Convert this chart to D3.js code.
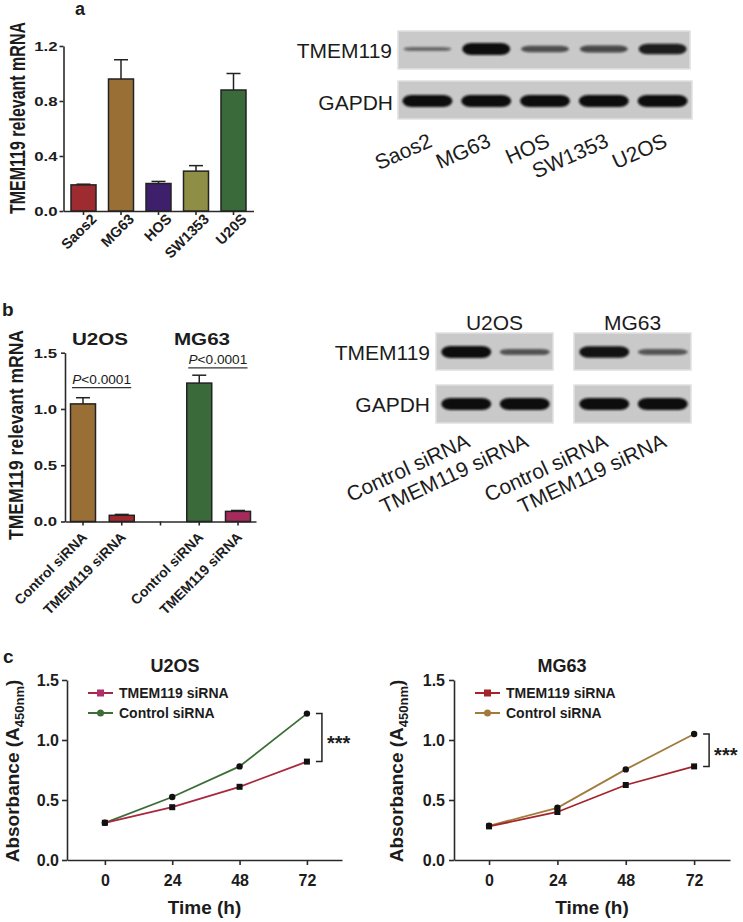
<!DOCTYPE html>
<html><head><meta charset="utf-8">
<script src="https://cdn.jsdelivr.net/npm/d3@7"></script>
<style>
body{margin:0;background:#fff;}
svg text{font-family:"Liberation Sans",Arial,Helvetica,sans-serif;}
</style></head><body>
<svg id="fig" width="743" height="922"></svg>
<script>
// ---------------- data ----------------
// panel a: qPCR bars
const cellLinesA = ["Saos2","MG63","HOS","SW1353","U20S"];
const mrnaA      = [0.19, 0.96, 0.20, 0.29, 0.88];
const mrnaErrA   = [0.005, 0.14, 0.015, 0.04, 0.12];
const yTicksA    = [0.0, 0.4, 0.8, 1.2];
// panel a: western blot
const blotLanesA = ["Saos2","MG63","HOS","SW1353","U2OS"];
const tmemBandA  = [0.18, 1.00, 0.42, 0.48, 0.85];
const gapdhBandA = [1, 1, 1, 1, 1];
const blotRowsA  = ["TMEM119","GAPDH"];
// panel b: qPCR bars
const groupsB     = ["U2OS","MG63"];
const conditionsB = ["Control siRNA","TMEM119 siRNA"];
const mrnaB       = [[1.045, 0.055],[1.23, 0.09]];
const mrnaErrB    = [[0.055, 0.008],[0.07, 0.008]];
const sigLevelB   = [1.19, 1.365];
const pTextB      = ["<0.0001","<0.0001"];
const yTicksB     = [0.0, 0.5, 1.0, 1.5];
// panel b: western blot
const tmemBandB  = [[1.0, 0.38],[0.95, 0.35]];
const gapdhBandB = [[1, 1],[1, 1]];
// panel c: CCK-8 growth curves
const timesC   = [0, 24, 48, 72];
const u2osTmem = [0.31, 0.44, 0.61, 0.82];
const u2osCtrl = [0.31, 0.525, 0.78, 1.22];
const mg63Tmem = [0.28, 0.40, 0.625, 0.78];
const mg63Ctrl = [0.285, 0.435, 0.755, 1.05];
const yTicksC  = [0.0, 0.5, 1.0, 1.5];
const seriesNamesC = ["TMEM119 siRNA","Control siRNA"];

// ---------------- helpers ----------------
const svg = d3.select("#fig");
const INK = "#1c1c1c";
function txt(x, y, str, o = {}) {
  return svg.append("text")
    .attr("transform", `translate(${x},${y}) scale(${o.sx || 1},1) rotate(${o.rot || 0})`)
    .attr("text-anchor", o.anchor || "start")
    .attr("font-size", o.size || 14)
    .attr("font-weight", o.weight || "normal")
    .attr("fill", o.fill || INK)
    .text(str);
}
function styleAxis(g, w, size) {
  g.select(".domain").attr("stroke", "#2a2a2a").attr("stroke-width", w);
  g.selectAll(".tick line").attr("stroke", "#2a2a2a").attr("stroke-width", w);
  g.attr("font-size", size).attr("font-family", null);
  g.selectAll(".tick text").attr("fill", INK).attr("font-weight", "bold");
}
const defs = svg.append("defs");
defs.append("filter").attr("id", "blur").attr("x", "-20%").attr("y", "-60%").attr("width", "140%").attr("height", "220%")
  .append("feGaussianBlur").attr("stdDeviation", 0.9);

// ---------------- panel a: bar chart ----------------
const colorsA = ["#9e2b30","#9a6f35","#3e1f6b","#8f8e46","#3b6a3a"];
const xA = d3.scaleBand().domain(cellLinesA).range([63.5, 253.5]).paddingInner(1/3).paddingOuter(0.2);
const yA = d3.scaleLinear().domain([0, 1.2]).range([211, 46]);
const axYA = svg.append("g").attr("transform", "translate(63.5,0)")
  .call(d3.axisLeft(yA).tickValues(yTicksA).tickFormat(d3.format(".1f")).tickSize(4).tickSizeOuter(0));
styleAxis(axYA, 1.6, 12);
axYA.selectAll(".tick text").attr("x", null).attr("dy", "0.36em").attr("transform", "translate(-6,0) scale(1.4,1)");
const axXA = svg.append("g").attr("transform", "translate(0,211)")
  .call(d3.axisBottom(xA).tickSize(4).tickSizeOuter(0).tickFormat(""));
styleAxis(axXA, 1.6, 12);
cellLinesA.forEach((c, i) => {
  const x = xA(c), w = xA.bandwidth();
  svg.append("rect").attr("x", x).attr("y", yA(mrnaA[i])).attr("width", w).attr("height", yA(0) - yA(mrnaA[i]))
    .attr("fill", colorsA[i]).attr("stroke", "#222").attr("stroke-width", 1.5);
  const cx = x + w / 2, yt = yA(mrnaA[i] + mrnaErrA[i]);
  svg.append("line").attr("x1", cx).attr("x2", cx).attr("y1", yA(mrnaA[i])).attr("y2", yt).attr("stroke", "#222").attr("stroke-width", 1.5);
  svg.append("line").attr("x1", cx - 7).attr("x2", cx + 7).attr("y1", yt).attr("y2", yt).attr("stroke", "#222").attr("stroke-width", 1.5);
  txt(cx + 14, 220, c, {rot: -45, anchor: "end", size: 14.5, weight: "bold"});
});
txt(25, 118, "TMEM119 relevant mRNA", {rot: -90, anchor: "middle", size: 16, weight: "bold", sx: 1.4});
txt(75, 15, "a", {size: 18, weight: "bold"});

// ---------------- blot helpers ----------------
function blotBox(x0, x1, y0, y1) {
  svg.append("rect").attr("x", x0).attr("y", y0).attr("width", x1 - x0).attr("height", y1 - y0)
    .attr("fill", "#c9c9c9").attr("stroke", "#e0e0e0").attr("stroke-width", 1.5);
}
function band(cx, cy, w, v) {
  const h = 2.5 + 9.5 * v;
  svg.append("rect").attr("x", cx - w / 2).attr("y", cy - h / 2).attr("width", w).attr("height", h)
    .attr("rx", 9).attr("ry", h / 2)
    .attr("fill", "#0d0d0d").attr("opacity", 0.4 + 0.6 * v).attr("filter", "url(#blur)");
}

// ---------------- panel a: blot ----------------
const laneA = d3.scalePoint().domain(blotLanesA).range([398, 692]).padding(0.5);
blotBox(398, 690, 31, 69);
blotBox(398, 692, 81, 119);
blotLanesA.forEach((l, i) => {
  band(laneA(l), 49, 48, tmemBandA[i]);
  band(laneA(l), 101, 50, gapdhBandA[i]);
  txt(laneA(l) + 6, 146, l, {rot: -24, anchor: "end", size: 21});
});
txt(392, 57.5, blotRowsA[0], {anchor: "end", size: 21});
txt(393, 109.5, blotRowsA[1], {anchor: "end", size: 21});

// ---------------- panel b: bar chart ----------------
const colorsB = [["#9a6f35","#a1282e"],["#3b6a3a","#a62a5c"]];
const slotsB = [];
groupsB.forEach((g, gi) => {
  if (gi > 0) slotsB.push("gap" + gi);
  conditionsB.forEach(c => slotsB.push(g + "|" + c));
});
const xB = d3.scaleBand().domain(slotsB).range([65, 256]).paddingInner(0.355).paddingOuter(0.142);
const yB = d3.scaleLinear().domain([0, 1.5]).range([521.5, 352.7]);
const axYB = svg.append("g").attr("transform", "translate(65,0)")
  .call(d3.axisLeft(yB).tickValues(yTicksB).tickFormat(d3.format(".1f")).tickSize(4).tickSizeOuter(0));
styleAxis(axYB, 1.6, 12);
axYB.selectAll(".tick text").attr("x", null).attr("dy", "0.36em").attr("transform", "translate(-8,0) scale(1.4,1)");
const axXB = svg.append("g").attr("transform", "translate(0,521.5)")
  .call(d3.axisBottom(xB).tickSize(4).tickSizeOuter(0).tickFormat(""));
styleAxis(axXB, 1.6, 12);
const titleXB = [100, 202];
groupsB.forEach((g, gi) => {
  conditionsB.forEach((c, ci) => {
    const key = g + "|" + c, x = xB(key), w = xB.bandwidth(), v = mrnaB[gi][ci];
    svg.append("rect").attr("x", x).attr("y", yB(v)).attr("width", w).attr("height", yB(0) - yB(v))
      .attr("fill", colorsB[gi][ci]).attr("stroke", "#222").attr("stroke-width", 1.5);
    const cx = x + w / 2, yt = yB(v + mrnaErrB[gi][ci]);
    svg.append("line").attr("x1", cx).attr("x2", cx).attr("y1", yB(v)).attr("y2", yt).attr("stroke", "#222").attr("stroke-width", 1.5);
    svg.append("line").attr("x1", cx - 7).attr("x2", cx + 7).attr("y1", yt).attr("y2", yt).attr("stroke", "#222").attr("stroke-width", 1.5);
    txt(cx + 5, 538, c, {rot: -45, anchor: "end", size: 14, weight: "bold"});
  });
  // significance line
  const xl = xB(g + "|" + conditionsB[0]) + 1.5;
  const xr = xB(g + "|" + conditionsB[1]) + xB.bandwidth() - 3;
  const ys = yB(sigLevelB[gi]);
  svg.append("line").attr("x1", xl).attr("x2", xr).attr("y1", ys).attr("y2", ys).attr("stroke", "#333").attr("stroke-width", 1.4);
  const t = txt((xl + xr) / 2, ys - 4, "", {anchor: "middle", size: 13, sx: 1.05});
  t.append("tspan").attr("font-style", "italic").text("P");
  t.append("tspan").text(pTextB[gi]);
  txt(titleXB[gi], 345, g, {anchor: "middle", size: 16.5, weight: "bold", sx: 1.25});
});
txt(23, 435, "TMEM119 relevant mRNA", {rot: -90, anchor: "middle", size: 17.5, weight: "bold", sx: 1.2});
txt(2, 316, "b", {size: 19, weight: "bold"});

// ---------------- panel b: blot ----------------
const boxXB = [[436, 553], [574, 691]];
groupsB.forEach((g, gi) => {
  const [x0, x1] = boxXB[gi];
  blotBox(x0, x1, 333, 370);
  blotBox(x0, x1, 385, 423);
  const lane = d3.scalePoint().domain(conditionsB).range([x0, x1]).padding(0.5);
  conditionsB.forEach((c, ci) => {
    band(lane(c) + 1, 352, 50, tmemBandB[gi][ci]);
    band(lane(c) + 1, 404, 50, gapdhBandB[gi][ci]);
    txt(lane(c) + 6, 446, c, {rot: -25, anchor: "end", size: 21});
  });
  txt((x0 + x1) / 2, 330, g, {anchor: "middle", size: 21});
});
txt(430, 359.5, blotRowsA[0], {anchor: "end", size: 21});
txt(430, 411.5, blotRowsA[1], {anchor: "end", size: 21});

// ---------------- panel c: growth curves ----------------
function growthPanel(cfg) {
  const x = d3.scaleLinear().domain(cfg.xDomain).range([cfg.x0, cfg.x1]);
  const y = d3.scaleLinear().domain([0, 1.5]).range([860, 680]);
  const ax = svg.append("g").attr("transform", `translate(0,860)`)
    .call(d3.axisBottom(x).tickValues(timesC).tickSize(5).tickPadding(10).tickSizeOuter(0));
  styleAxis(ax, 1.6, 16);
  const ay = svg.append("g").attr("transform", `translate(${cfg.x0},0)`)
    .call(d3.axisLeft(y).tickValues(yTicksC).tickFormat(d3.format(".1f")).tickSize(5).tickPadding(cfg.yPad).tickSizeOuter(0));
  styleAxis(ay, 1.6, 16);
  const line = d3.line().x((d, i) => x(timesC[i])).y(d => y(d));
  [[cfg.ctrl, cfg.ctrlColor, "circle"], [cfg.tmem, cfg.tmemColor, "square"]].forEach(([vals, col, shape]) => {
    svg.append("path").datum(vals).attr("d", line).attr("fill", "none").attr("stroke", col).attr("stroke-width", 1.8);
    vals.forEach((v, i) => {
      if (shape === "square") {
        svg.append("rect").attr("x", x(timesC[i]) - 3).attr("y", y(v) - 3).attr("width", 6).attr("height", 6).attr("fill", "#111");
      } else {
        svg.append("circle").attr("cx", x(timesC[i])).attr("cy", y(v)).attr("r", 3.2).attr("fill", "#111");
      }
    });
  });
  const legend = [[seriesNamesC[0], cfg.tmemColor, cfg.tmemLegend, "square"], [seriesNamesC[1], cfg.ctrlColor, cfg.ctrlLegend, "circle"]];
  legend.forEach(([name, col, mk, shape], i) => {
    const ly = 693 + i * 20;
    const lx0 = cfg.x0 + 21, lx1 = cfg.x0 + 46;
    svg.append("line").attr("x1", lx0).attr("x2", lx1).attr("y1", ly).attr("y2", ly).attr("stroke", col).attr("stroke-width", 2);
    if (shape === "square") svg.append("rect").attr("x", (lx0 + lx1) / 2 - 3.5).attr("y", ly - 3.5).attr("width", 7).attr("height", 7).attr("fill", mk);
    else svg.append("circle").attr("cx", (lx0 + lx1) / 2).attr("cy", ly).attr("r", 3.5).attr("fill", mk);
    txt(cfg.x0 + 52, ly + 5, name, {size: 14, weight: "bold"});
  });
  const bx = x(72) + 15, yt = y(cfg.ctrl[3]), yb = y(cfg.tmem[3]);
  svg.append("path").attr("d", `M${bx - 6},${yt}H${bx}V${yb}H${bx - 6}`).attr("fill", "none").attr("stroke", "#222").attr("stroke-width", 1.5);
  txt(bx + 5, (yt + yb) / 2 + 12, "***", {size: 20, weight: "bold"});
  txt(cfg.x0 + 108, 672, cfg.title, {anchor: "middle", size: 18, weight: "bold"});
  txt((cfg.x0 + cfg.x1) / 2, 914, "Time (h)", {anchor: "middle", size: 19, weight: "bold"});
  const yt2 = txt(cfg.yTitleX, 771, "", {rot: -90, anchor: "middle", size: 19, weight: "bold"});
  yt2.append("tspan").text("Absorbance (A");
  yt2.append("tspan").attr("font-size", 13).attr("dy", 5).text("450nm");
  yt2.append("tspan").attr("dy", -5).text(")");
}
growthPanel({title: "U2OS", x0: 67, x1: 342, xDomain: [-13.5, 84.5], yPad: 3, yTitleX: 19,
  tmem: u2osTmem, ctrl: u2osCtrl, tmemColor: "#a8283f", ctrlColor: "#3d6e37", tmemLegend: "#b0306a", ctrlLegend: "#3d6e37"});
growthPanel({title: "MG63", x0: 454, x1: 730, xDomain: [-12.3, 84.6], yPad: 4, yTitleX: 403,
  tmem: mg63Tmem, ctrl: mg63Ctrl, tmemColor: "#a5232a", ctrlColor: "#a07b3c", tmemLegend: "#a5232a", ctrlLegend: "#a07b3c"});
txt(3, 663, "c", {size: 19, weight: "bold"});
</script>
</body></html>
